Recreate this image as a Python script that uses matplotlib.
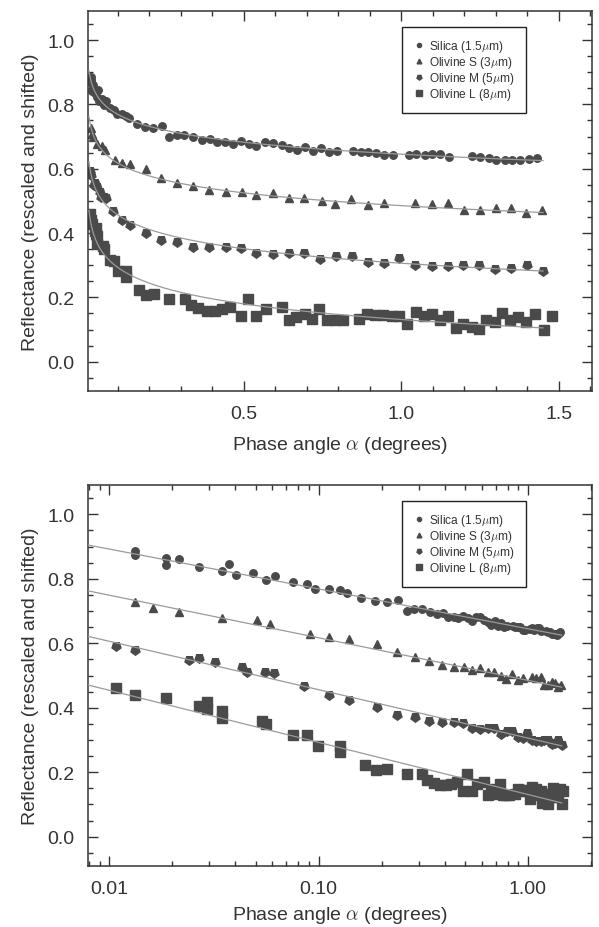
import numpy as np
import matplotlib
matplotlib.use("Agg")
import matplotlib.pyplot as plt
from matplotlib.ticker import MultipleLocator, FixedLocator, LogLocator, NullFormatter

plt.rcParams['font.family'] = ['Liberation Sans', 'DejaVu Sans']
plt.rcParams['mathtext.fontset'] = 'cm'

# Silica (1.5 um)
silica_alpha = [0.0133, 0.0133, 0.0187, 0.0187, 0.0214, 0.0267, 0.0346, 0.0372, 0.0401, 0.0483,
                0.0560, 0.0615, 0.075, 0.0879, 0.096, 0.112, 0.127, 0.136,
                0.159, 0.186, 0.212, 0.239, 0.263, 0.286, 0.310, 0.339, 0.366, 0.392,
                0.415, 0.441, 0.464, 0.490, 0.515, 0.540, 0.567, 0.593, 0.620, 0.644,
                0.669, 0.694, 0.720, 0.744, 0.770, 0.796, 0.847, 0.871, 0.895, 0.921,
                0.944, 0.972, 1.023, 1.048, 1.075, 1.099, 1.124, 1.152, 1.226, 1.251,
                1.277, 1.302, 1.329, 1.353, 1.378, 1.406, 1.431]
silica_refl = [0.885, 0.875, 0.864, 0.843, 0.861, 0.835, 0.823, 0.845, 0.811, 0.817,
               0.797, 0.809, 0.790, 0.783, 0.769, 0.769, 0.765, 0.757,
               0.740, 0.730, 0.727, 0.734, 0.699, 0.706, 0.706, 0.698, 0.690, 0.693,
               0.682, 0.682, 0.678, 0.685, 0.678, 0.670, 0.683, 0.680, 0.673, 0.665,
               0.657, 0.668, 0.654, 0.663, 0.651, 0.654, 0.654, 0.651, 0.651, 0.649,
               0.642, 0.642, 0.644, 0.647, 0.642, 0.647, 0.647, 0.637, 0.639, 0.636,
               0.634, 0.628, 0.628, 0.628, 0.626, 0.631, 0.634]

# Olivine S (3 um)
olis_alpha = [0.0133, 0.0161, 0.0214, 0.0346, 0.0507, 0.0588, 0.0911, 0.112, 0.139, 0.190,
              0.238, 0.288, 0.338, 0.388, 0.443, 0.493, 0.540, 0.591, 0.642, 0.690,
              0.747, 0.789, 0.840, 0.895, 0.945, 1.045, 1.097, 1.149, 1.198, 1.249,
              1.300, 1.348, 1.397, 1.447]
olis_refl = [0.727, 0.708, 0.697, 0.678, 0.672, 0.659, 0.628, 0.618, 0.613, 0.598,
             0.572, 0.556, 0.546, 0.533, 0.527, 0.527, 0.517, 0.523, 0.510, 0.510,
             0.498, 0.489, 0.505, 0.487, 0.492, 0.494, 0.491, 0.494, 0.472, 0.471,
             0.479, 0.477, 0.463, 0.472]

# Olivine M (5 um)
olim_alpha = [0.0107, 0.0133, 0.0241, 0.0267, 0.0321, 0.0430, 0.0454, 0.0554, 0.0613, 0.0853,
              0.112, 0.139, 0.190, 0.238, 0.288, 0.337, 0.388, 0.443, 0.490, 0.540,
              0.591, 0.642, 0.690, 0.741, 0.792, 0.842, 0.893, 0.944, 0.993, 1.045,
              1.097, 1.149, 1.196, 1.247, 1.298, 1.348, 1.398, 1.450]
olim_refl = [0.592, 0.580, 0.548, 0.554, 0.543, 0.527, 0.512, 0.512, 0.508, 0.468,
             0.440, 0.424, 0.401, 0.378, 0.372, 0.358, 0.355, 0.355, 0.352, 0.337,
             0.334, 0.337, 0.337, 0.319, 0.329, 0.327, 0.309, 0.307, 0.322, 0.301,
             0.298, 0.296, 0.301, 0.301, 0.288, 0.290, 0.301, 0.283]

# Olivine L (8 um)
olil_alpha = [0.0107, 0.0133, 0.0187, 0.0267, 0.0294, 0.0294, 0.0346, 0.0346, 0.0536, 0.056,
              0.075, 0.0879, 0.099, 0.126, 0.126, 0.166, 0.188, 0.213, 0.263, 0.313,
              0.331, 0.355, 0.382, 0.408, 0.429, 0.456, 0.490, 0.514, 0.540, 0.570,
              0.620, 0.644, 0.667, 0.694, 0.717, 0.739, 0.763, 0.789, 0.815, 0.866,
              0.892, 0.916, 0.942, 0.969, 0.993, 1.018, 1.046, 1.071, 1.096, 1.122,
              1.149, 1.173, 1.196, 1.223, 1.247, 1.270, 1.297, 1.321, 1.344, 1.371,
              1.395, 1.424, 1.452, 1.477]
olil_refl = [0.460, 0.441, 0.429, 0.406, 0.417, 0.396, 0.391, 0.367, 0.360, 0.350,
             0.316, 0.314, 0.281, 0.281, 0.264, 0.223, 0.208, 0.211, 0.195, 0.195,
             0.176, 0.166, 0.159, 0.159, 0.164, 0.169, 0.143, 0.195, 0.143, 0.164,
             0.169, 0.128, 0.138, 0.149, 0.133, 0.164, 0.128, 0.128, 0.128, 0.133,
             0.149, 0.146, 0.146, 0.143, 0.143, 0.118, 0.154, 0.143, 0.149, 0.128,
             0.143, 0.104, 0.118, 0.107, 0.102, 0.131, 0.123, 0.152, 0.128, 0.138,
             0.123, 0.149, 0.100, 0.141]

# log-linear fits: R = a + b*log10(alpha)
fit_intercept = [0.645, 0.485, 0.306, 0.131]
fit_slope = [-0.1235, -0.132, -0.150, -0.1615]
fit_range = (0.0079, 1.45)

labels = ['Silica (1.5$\\mu$m)', 'Olivine S (3$\\mu$m)',
          'Olivine M (5$\\mu$m)', 'Olivine L (8$\\mu$m)']
markers = ['o', '^', (5, 0, 180), 's']
msizes = [5.4, 6.2, 6.8, 7.4]
series = [(silica_alpha, silica_refl), (olis_alpha, olis_refl),
          (olim_alpha, olim_refl), (olil_alpha, olil_refl)]

mcol = '#4a4a4a'
lcol = '#9a9a9a'
txt = '#333333'

fig = plt.figure(figsize=(5.99, 9.28), dpi=100)
ax1 = fig.add_axes([0.147, 0.578, 0.841, 0.409])
ax2 = fig.add_axes([0.147, 0.066, 0.841, 0.410])

xfit = np.logspace(np.log10(fit_range[0]), np.log10(fit_range[1]), 400)

for ax in (ax1, ax2):
    for i, (xa, ya) in enumerate(series):
        ax.plot(xfit, fit_intercept[i] + fit_slope[i] * np.log10(xfit),
                color=lcol, lw=0.9, zorder=3)
        ax.plot(xa, ya, linestyle='none', marker=markers[i], ms=msizes[i],
                color=mcol, mec=mcol, label=labels[i], zorder=2)

    ax.set_ylim(-0.09, 1.09)
    ax.yaxis.set_major_locator(MultipleLocator(0.2))
    ax.yaxis.set_minor_locator(MultipleLocator(0.05))
    ax.yaxis.set_major_formatter(plt.FuncFormatter(lambda v, p: '%.1f' % v))
    ax.set_ylabel('Reflectance (rescaled and shifted)', fontsize=14, color=txt, labelpad=6)
    ax.tick_params(which='both', direction='in', top=True, right=True,
                   colors=txt, labelsize=14, width=1.0)
    ax.tick_params(which='major', length=7, pad=10)
    ax.tick_params(which='minor', length=3.5)
    for s in ax.spines.values():
        s.set_color(txt)
        s.set_linewidth(1.1)
    leg = ax.legend(loc='upper right', bbox_to_anchor=(0.869, 0.958), borderaxespad=0,
                    fontsize=8.6, markerscale=0.55, handletextpad=0.4, handlelength=1.0,
                    labelspacing=0.0, borderpad=0.9, fancybox=False, framealpha=1)
    leg.get_frame().set_edgecolor('#222222')
    leg.get_frame().set_linewidth(1.0)
    for t in leg.get_texts():
        t.set_color(txt)

ax1.set_xlabel('Phase angle $\\alpha$ (degrees)', fontsize=14, color=txt, labelpad=9)
ax2.set_xlabel('Phase angle $\\alpha$ (degrees)', fontsize=14, color=txt, labelpad=5)

ax1.set_xlim(0.005, 1.605)
ax1.xaxis.set_major_locator(FixedLocator([0.5, 1.0, 1.5]))
ax1.xaxis.set_minor_locator(MultipleLocator(0.1))
ax1.xaxis.set_major_formatter(plt.FuncFormatter(lambda v, p: '%.1f' % v))

ax2.set_xscale('log')
ax2.set_xlim(0.0079, 2.02)
ax2.xaxis.set_major_locator(FixedLocator([0.01, 0.1, 1.0]))
ax2.xaxis.set_minor_locator(LogLocator(base=10, subs=np.arange(2, 10)))
ax2.xaxis.set_minor_formatter(NullFormatter())
ax2.xaxis.set_major_formatter(plt.FuncFormatter(lambda v, p: '%.2f' % v))

fig.savefig('out.png', dpi=100)
